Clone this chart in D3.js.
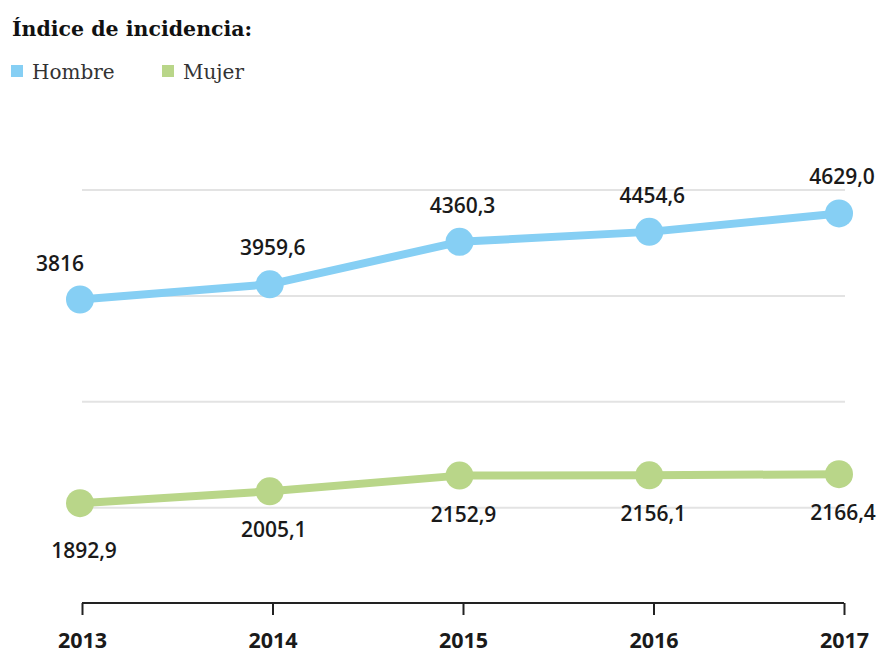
<!DOCTYPE html>
<html>
<head>
<meta charset="utf-8">
<script src="https://cdn.jsdelivr.net/npm/d3@7"></script>
<style>
  body { margin: 0; background: #fff; }
  svg { display: block; }
</style>
</head>
<body>
<script>
const w = 886;
const h = 654;

// data
const years = ["2013", "2014", "2015", "2016", "2017"];
const hombre = [3816, 3959.6, 4360.3, 4454.6, 4629.0];
const mujer = [1892.9, 2005.1, 2152.9, 2156.1, 2166.4];
const hombreLabels = ["3816", "3959,6", "4360,3", "4454,6", "4629,0"];
const mujerLabels = ["1892,9", "2005,1", "2152,9", "2156,1", "2166,4"];
const gridValues = [1850, 2850, 3850, 4850];
const seriesNames = ["Hombre", "Mujer"];
const colors = ["#86cff4", "#b9d689"];

const svg = d3
  .select("body")
  .append("svg")
  .attr("width", w)
  .attr("height", h);

const x = d3.scalePoint().domain(years).range([80, 839]);
const xAxisScale = d3.scalePoint().domain(years).range([82, 844]);
const y = d3.scaleLinear().domain([1850, 4850]).range([507.7, 190]);

// title
svg
  .append("text")
  .attr("x", 12)
  .attr("y", 36)
  .style("font-family", "'DejaVu Serif', serif")
  .style("font-weight", "bold")
  .style("font-size", "20.5px")
  .style("fill", "#111")
  .text("Índice de incidencia:");

// legend
const legendX = [11, 162];
seriesNames.forEach((name, i) => {
  svg
    .append("rect")
    .attr("x", legendX[i])
    .attr("y", 65)
    .attr("width", 12)
    .attr("height", 12)
    .style("fill", colors[i]);
  svg
    .append("text")
    .attr("x", legendX[i] + 21)
    .attr("y", 79)
    .style("font-family", "'DejaVu Serif', serif")
    .style("font-weight", "300")
    .style("font-size", "20px")
    .style("fill", "#333")
    .text(name);
});

// gridlines
svg
  .append("g")
  .selectAll("line")
  .data(gridValues)
  .enter()
  .append("line")
  .attr("x1", 82)
  .attr("x2", 845)
  .attr("y1", d => y(d))
  .attr("y2", d => y(d))
  .style("stroke", "#e3e3e3")
  .style("stroke-width", 2);

// lines + points
const line = d3
  .line()
  .x((d, i) => x(years[i]))
  .y(d => y(d));

[hombre, mujer].forEach((values, s) => {
  svg
    .append("path")
    .datum(values)
    .attr("d", line)
    .style("fill", "none")
    .style("stroke", colors[s])
    .style("stroke-width", 8)
    .style("stroke-linejoin", "round");

  svg
    .append("g")
    .selectAll("circle")
    .data(values)
    .enter()
    .append("circle")
    .attr("cx", (d, i) => x(years[i]))
    .attr("cy", d => y(d))
    .attr("r", 14)
    .style("fill", colors[s]);
});

// value labels
const labelStyle = sel =>
  sel
    .style("font-family", "'Open Sans', sans-serif")
    .style("font-weight", "600")
    .style("font-size", "21px")
    .style("fill", "#1a1a1a")
    .style("text-anchor", "middle");

svg
  .append("g")
  .selectAll("text")
  .data(hombre)
  .enter()
  .append("text")
  .attr("x", (d, i) => x(years[i]) + (i === 0 ? -20 : 3))
  .attr("y", d => y(d) - 29)
  .text((d, i) => hombreLabels[i])
  .call(labelStyle);

svg
  .append("g")
  .selectAll("text")
  .data(mujer)
  .enter()
  .append("text")
  .attr("x", (d, i) => x(years[i]) + 4)
  .attr("y", (d, i) => y(d) + (i === 0 ? 55 : 46))
  .text((d, i) => mujerLabels[i])
  .call(labelStyle);

// x-axis
const xAxis = d3.axisBottom(xAxisScale).tickSize(12).tickPadding(18);
const gx = svg
  .append("g")
  .attr("transform", "translate(0,603)")
  .call(xAxis.tickSizeOuter(0));

gx.select(".domain")
  .attr("d", "M" + xAxisScale("2013") + ",0H" + xAxisScale("2017"))
  .style("stroke", "#222")
  .style("stroke-width", 2);
gx.selectAll(".tick line").style("stroke", "#222").style("stroke-width", 2);
gx.selectAll(".tick text")
  .style("font-family", "'Open Sans', sans-serif")
  .style("font-weight", "700")
  .style("font-size", "21.5px")
  .style("fill", "#1a1a1a");
</script>
</body>
</html>
